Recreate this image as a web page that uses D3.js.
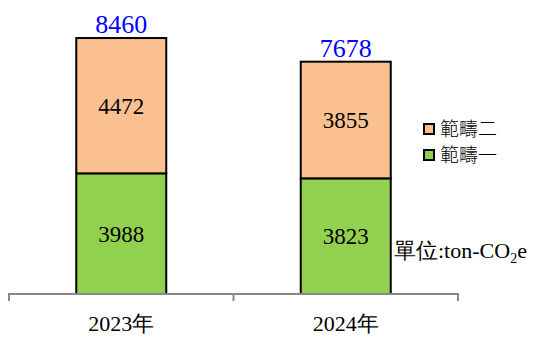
<!DOCTYPE html>
<html>
<head>
<meta charset="utf-8">
<script src="https://cdn.jsdelivr.net/npm/d3@7"></script>
<style>
  body { margin: 0; background: #fff; }
  svg { display: block; }
</style>
</head>
<body>
<div id="chart"></div>
<script>
// data
var years = ["2023年", "2024年"];
var scope1 = [3988, 3823];
var scope2 = [4472, 3855];
var totals = [8460, 7678];
var seriesNames = ["範疇一", "範疇二"];
var unitLabel = "單位:ton-CO";

var W = 538, H = 348;
var color = { "範疇一": "#92D050", "範疇二": "#FAC090" };

var svg = d3.select("#chart").append("svg")
    .attr("width", W)
    .attr("height", H);

// x band: axis runs from 9 to 458
var x = d3.scaleBand()
    .domain(years)
    .range([9, 458])
    .paddingInner(0)
    .paddingOuter(0);

var y = d3.scaleLinear()
    .domain([0, 9000])
    .range([294, 21.7]);

var barW = 90;

var rows = years.map(function (yr, i) {
  return { year: yr, "範疇一": scope1[i], "範疇二": scope2[i], total: totals[i] };
});

var stack = d3.stack().keys(seriesNames)(rows);

// no CJK font in this stack so digits stay serif; 年/單位 fall back per glyph
var serif = "Liberation Serif, Times New Roman, DejaVu Serif, serif";

// bars
var layer = svg.selectAll("g.layer")
    .data(stack)
    .enter().append("g")
    .attr("class", "layer")
    .attr("fill", function (d) { return color[d.key]; });

layer.selectAll("rect")
    .data(function (d) { return d; })
    .enter().append("rect")
    .attr("x", function (d) { return x(d.data.year) + x.bandwidth() / 2 - barW / 2; })
    .attr("y", function (d) { return y(d[1]); })
    .attr("width", barW)
    .attr("height", function (d) { return y(d[0]) - y(d[1]); })
    .attr("stroke", "#000")
    .attr("stroke-width", 2);

// segment labels
layer.selectAll("text")
    .data(function (d) { return d; })
    .enter().append("text")
    .attr("x", function (d) { return x(d.data.year) + x.bandwidth() / 2; })
    .attr("y", function (d) { return (y(d[0]) + y(d[1])) / 2; })
    .attr("dy", "0.35em")
    .attr("text-anchor", "middle")
    .style("font-family", serif)
    .style("font-size", "23px")
    .attr("fill", "#000")
    .text(function (d) { return d[1] - d[0]; });

// totals in blue
svg.selectAll("text.total")
    .data(rows)
    .enter().append("text")
    .attr("class", "total")
    .attr("x", function (d) { return x(d.year) + x.bandwidth() / 2; })
    .attr("y", function (d) { return y(d.total) - 5; })
    .attr("text-anchor", "middle")
    .style("font-family", serif)
    .style("font-size", "26px")
    .attr("fill", "#0000FF")
    .text(function (d) { return d.total; });

// x axis
var xAxis = svg.append("g")
    .attr("transform", "translate(0,294)")
    .call(d3.axisBottom(x).tickSize(0).tickFormat(""));
xAxis.select(".domain").remove();
xAxis.append("path")
    .attr("d", "M9,7V0H458V7")
    .attr("fill", "none")
    .attr("stroke", "#888")
    .attr("stroke-width", 2);
xAxis.append("line")
    .attr("x1", x(years[1])).attr("x2", x(years[1]))
    .attr("y1", 0).attr("y2", 7)
    .attr("stroke", "#888")
    .attr("stroke-width", 2);

svg.selectAll("text.xlab")
    .data(years)
    .enter().append("text")
    .attr("class", "xlab")
    .attr("x", function (d) { return x(d) + x.bandwidth() / 2; })
    .attr("y", 331)
    .attr("text-anchor", "middle")
    .style("font-family", serif)
    .style("font-size", "22px")
    .attr("fill", "#000")
    .text(function (d) { return d; });

// legend (範疇二 on top)
var legendItems = seriesNames.slice().reverse();
var lg = svg.selectAll("g.legend")
    .data(legendItems)
    .enter().append("g")
    .attr("class", "legend")
    .attr("transform", function (d, i) { return "translate(424," + (124 + i * 26) + ")"; });

lg.append("rect")
    .attr("width", 10)
    .attr("height", 10)
    .attr("fill", function (d) { return color[d]; })
    .attr("stroke", "#000")
    .attr("stroke-width", 2);

lg.append("text")
    .attr("x", 16)
    .attr("y", 5)
    .attr("dy", "0.36em")
    .style("font-family", "Noto Sans CJK TC, sans-serif")
    .style("font-size", "19px")
    .style("font-weight", "300")
    .attr("fill", "#000")
    .text(function (d) { return d; });

// unit label
var unit = svg.append("text")
    .attr("x", 394)
    .attr("y", 258)
    .style("font-family", serif)
    .style("font-size", "22px")
    .attr("fill", "#000");
unit.append("tspan").text(unitLabel);
unit.append("tspan").attr("dy", 5).style("font-size", "14px").text("2");
unit.append("tspan").attr("dy", -5).text("e");
</script>
</body>
</html>
